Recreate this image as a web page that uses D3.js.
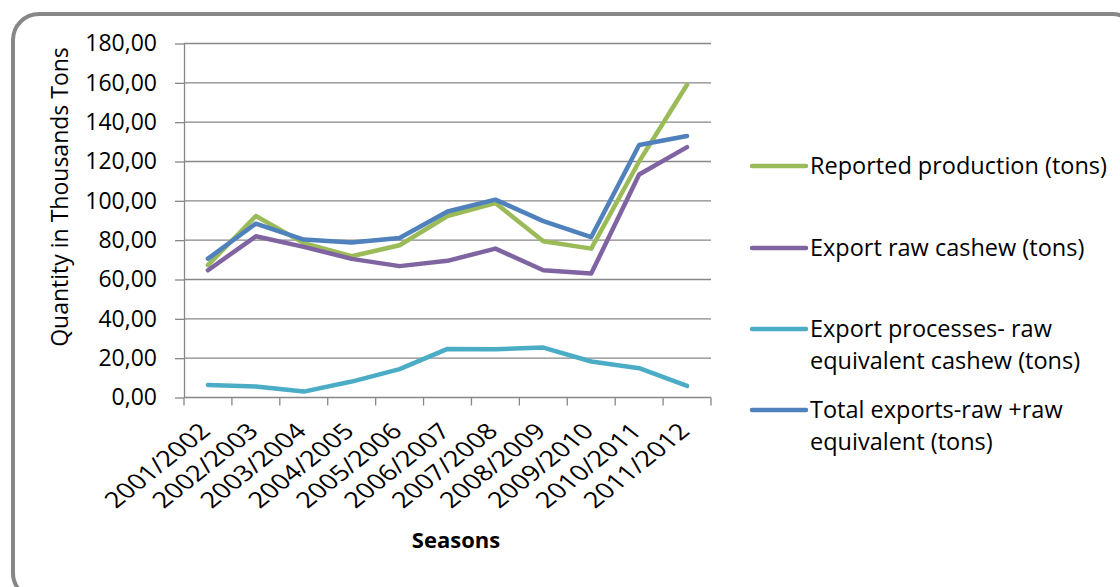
<!DOCTYPE html>
<html>
<head>
<meta charset="utf-8">
<script src="https://cdn.jsdelivr.net/npm/d3@7"></script>
<style>
  html, body { margin: 0; padding: 0; background: #fff; }
  svg { display: block; }
  text { font-family: "Open Sans", Lato, sans-serif; fill: #000; }
</style>
</head>
<body>
<svg id="chart" width="1120" height="587"></svg>
<script>
const seasons = ["2001/2002","2002/2003","2003/2004","2004/2005","2005/2006","2006/2007","2007/2008","2008/2009","2009/2010","2010/2011","2011/2012"];
const reportedProduction = [67.3, 92.3, 78.5, 71.8, 77.4, 92.3, 98.9, 79.4, 75.7, 120.0, 159.0];
const exportRaw = [64.7, 82.0, 76.6, 70.5, 66.8, 69.5, 75.7, 64.7, 63.0, 113.4, 127.3];
const exportProcessed = [6.4, 5.6, 3.0, 8.1, 14.4, 24.7, 24.5, 25.4, 18.3, 14.9, 5.9];
const totalExports = [70.6, 88.4, 80.3, 78.8, 81.1, 94.6, 100.6, 89.7, 81.6, 128.4, 133.0];
const yTicks = [0, 20, 40, 60, 80, 100, 120, 140, 160, 180];
const seriesNames = [["Reported production (tons)"], ["Export raw cashew (tons)"], ["Export processes- raw", "equivalent cashew (tons)"], ["Total exports-raw +raw", "equivalent (tons)"]];
const seriesColors = ["#9BBB59", "#8064A2", "#4BACC6", "#4F81BD"];
const seriesValues = [reportedProduction, exportRaw, exportProcessed, totalExports];

(function () {
const svg = d3.select("#chart");
const pLeft = 184, pRight = 711, pTop = 43.5, pBottom = 397.5;
const FONT = '"Open Sans", Lato, sans-serif';

// outer rounded frame
svg.append("rect").attr("x", 13).attr("y", 14).attr("width", 1125).attr("height", 585)
  .attr("rx", 26).attr("ry", 26).attr("fill", "#fff").attr("stroke", "#878787").attr("stroke-width", 4);

const x = d3.scaleBand().domain(seasons).range([pLeft, pRight]).padding(0);
const y = d3.scaleLinear().domain([0, 180]).range([pBottom, pTop]);

// gridlines
svg.append("g").selectAll("line").data(yTicks.filter(d => d > 0)).join("line")
  .attr("x1", pLeft).attr("x2", pRight).attr("y1", d => y(d)).attr("y2", d => y(d))
  .attr("stroke", "#878787").attr("stroke-width", 1.3);

// y axis
const fmt = v => d3.format(".2f")(v).replace(".", ",");
const yAxis = svg.append("g").attr("transform", `translate(${pLeft},0)`)
  .call(d3.axisLeft(y).tickValues(yTicks).tickFormat(fmt).tickSize(9).tickSizeOuter(0).tickPadding(18));
yAxis.select(".domain").attr("stroke", "#878787").attr("stroke-width", 1.3);
yAxis.selectAll(".tick line").attr("stroke", "#878787").attr("stroke-width", 1.3);
yAxis.selectAll(".tick text").style("font-family", FONT).style("font-size", "23px").attr("fill", "#000");

// x axis line and boundary ticks
svg.append("line").attr("x1", pLeft).attr("x2", pRight).attr("y1", pBottom).attr("y2", pBottom)
  .attr("stroke", "#878787").attr("stroke-width", 1.3);
const bounds = seasons.map(s => x(s)).concat([x.range()[1]]);
svg.append("g").selectAll("line").data(bounds).join("line")
  .attr("x1", d => d).attr("x2", d => d).attr("y1", pBottom).attr("y2", pBottom + 8)
  .attr("stroke", "#878787").attr("stroke-width", 1.3);

// x labels (slightly stretched horizontally, like the reference)
svg.append("g").selectAll("text").data(seasons).join("text")
  .attr("transform", d => `translate(${x(d) + x.bandwidth() / 2 + 4},${pBottom + 35}) scale(1.25,1) rotate(-45)`)
  .attr("text-anchor", "end")
  .style("font-size", "22px").text(d => d);

// axis titles
svg.append("text").attr("transform", "translate(68,197) rotate(-90)")
  .attr("text-anchor", "middle").style("font-size", "23px").text("Quantity in Thousands Tons");
svg.append("text").attr("x", 456).attr("y", 548).attr("text-anchor", "middle")
  .style("font-size", "22px").style("font-weight", "bold").text("Seasons");

// lines
const line = d3.line().x((d, i) => x(seasons[i]) + x.bandwidth() / 2).y(d => y(d));
svg.append("g").selectAll("path").data(seriesValues).join("path")
  .attr("d", d => line(d)).attr("fill", "none")
  .attr("stroke", (d, i) => seriesColors[i]).attr("stroke-width", 4.5)
  .attr("stroke-linejoin", "round").attr("stroke-linecap", "round");

// legend
const legendY = [166, 248, 329, 410];
const lg = svg.append("g");
seriesNames.forEach((lines, i) => {
  lg.append("line").attr("x1", 752).attr("x2", 806).attr("y1", legendY[i]).attr("y2", legendY[i])
    .attr("stroke", seriesColors[i]).attr("stroke-width", 4.5).attr("stroke-linecap", "round");
  const t = lg.append("text").attr("x", 810).attr("y", legendY[i]).style("font-size", "23.5px");
  lines.forEach((s, j) => {
    t.append("tspan").attr("x", 810).attr("dy", j === 0 ? "0.35em" : "32px").text(s);
  });
});
})();
</script>
</body>
</html>
